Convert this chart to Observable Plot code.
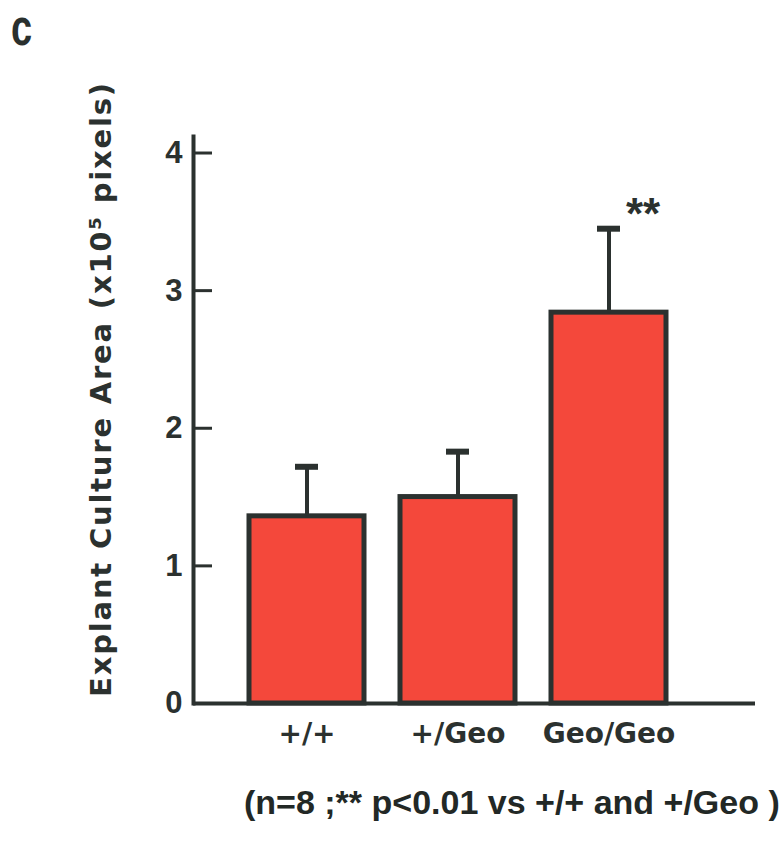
<!DOCTYPE html>
<html>
<head>
<meta charset="utf-8">
<script src="https://cdn.jsdelivr.net/npm/d3@7"></script>
<script src="https://cdn.jsdelivr.net/npm/@observablehq/plot@0.6"></script>
<style>
  html, body { margin: 0; padding: 0; background: #fff; }
  #wrap { position: relative; width: 783px; height: 841px; overflow: hidden; background: #fff; }
  #panel { position: absolute; left: 11px; top: 2px; font: bold 38px/38px "Liberation Sans", Arial, sans-serif; color: #2a302e; transform: scaleY(1.35); transform-origin: 0 0; }
  #caption { position: absolute; left: 244px; top: 783px; font: bold 34px "Liberation Sans", Arial, sans-serif; color: #222826; white-space: nowrap; }
</style>
</head>
<body>
<div id="wrap">
  <div id="chart"></div>
  <div id="panel">c</div>
  <div id="caption">(n=8 ;** p&lt;0.01 vs +/+ and +/Geo )</div>
</div>
<script>
const groups = ["+/+", "+/Geo", "Geo/Geo"];
const means = [1.36, 1.50, 2.84];
const errors = [0.36, 0.33, 0.61];
const marks = ["", "", "**"];
const yTicks = [0, 1, 2, 3, 4];
const yLabel = "Explant Culture Area (x10\u2075 pixels)";

const data = groups.map((g, i) => ({group: g, mean: means[i], err: errors[i], mark: marks[i]}));

const ink = "#2b312f";
const comic = "'Comic Sans MS', 'DejaVu Sans', sans-serif";
const arial = "'Liberation Sans', Arial, sans-serif";

const chart = Plot.plot({
  width: 783,
  height: 770,
  marginLeft: 193,
  marginRight: 28,
  marginTop: 136,
  marginBottom: 67,
  style: {background: "transparent", color: ink},
  x: {domain: groups, paddingInner: 0.24, paddingOuter: 0, insetLeft: 55, insetRight: 88},
  y: {domain: [0, 4.12]},
  marks: [
    Plot.barY(data, {x: "group", y: "mean", fill: "#f4483b", stroke: ink, strokeWidth: 5}),
    Plot.ruleX(data, {x: "group", y1: "mean", y2: d => d.mean + d.err, stroke: ink, strokeWidth: 4}),
    Plot.tickY(data, {x: "group", y: d => d.mean + d.err, stroke: ink, strokeWidth: 6, insetLeft: 46, insetRight: 46}),
    Plot.ruleY([0], {stroke: ink, strokeWidth: 4}),
    Plot.frame({anchor: "left", stroke: ink, strokeWidth: 4}),
    Plot.tickY(yTicks, {y: d => d, stroke: ink, strokeWidth: 3, insetRight: 543}),
    Plot.axisY({ticks: yTicks, tickFormat: d3.format("d"), tickSize: 0, tickPadding: 11, fontSize: 31, fontWeight: "bold", fontFamily: arial, fill: ink, label: null}),
    Plot.axisX({tickSize: 0, tickPadding: 20, fontSize: 28, fontWeight: "bold", fontFamily: comic, fill: ink, label: null}),
    Plot.text([yLabel], {frameAnchor: "left", textAnchor: "middle", rotate: -90, dx: -92, dy: -31, fontSize: 29, fontWeight: "bold", fontFamily: comic, fill: ink}),
    Plot.text(data.filter(d => d.mark), {x: "group", y: d => d.mean + d.err, text: "mark", dx: 34, dy: -14, fontSize: 44, fontWeight: "bold", fontFamily: arial, fill: ink})
  ]
});
d3.select(chart).selectAll("text").filter(function() { return this.textContent === yLabel; }).style("letter-spacing", "1.8px");
document.getElementById("chart").appendChild(chart);
</script>
</body>
</html>
